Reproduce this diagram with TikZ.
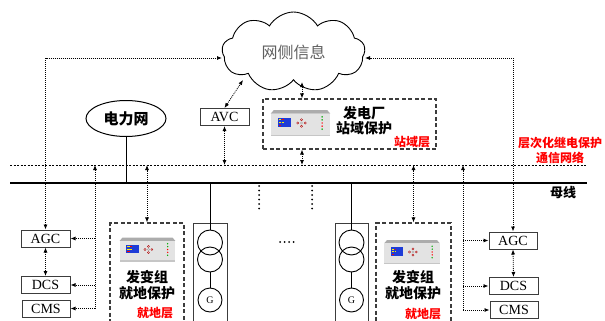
\documentclass[tikz,border=0pt]{standalone}
\usepackage{fontspec}
\setmainfont{Liberation Serif}
\newfontfamily\cjk{Noto Sans CJK SC}
\usetikzlibrary{arrows.meta,shapes.geometric,shapes.symbols}

\definecolor{boxgray}{RGB}{60,60,60}
\definecolor{lblred}{RGB}{255,0,0}
\definecolor{cloudtxt}{RGB}{95,95,95}
\definecolor{lcdblue}{RGB}{30,60,215}

\tikzset{
  unitbox/.style={draw=boxgray, line width=1pt, minimum width=49pt, minimum height=17pt,
    inner sep=0pt, font=\fontsize{14}{14}\selectfont},
  layerbox/.style={draw=boxgray, line width=1.1pt, dash pattern=on 4pt off 2.5pt,
    inner sep=0pt},
  link/.style={line width=0.8pt, dash pattern=on 1pt off 1pt},
  twoway/.style={link, {Latex[length=5pt,width=4pt]}-{Latex[length=5pt,width=4pt]}},
  oneway/.style={link, -{Latex[length=5pt,width=4pt]}},
  busline/.style={line width=1.5pt},
  netline/.style={line width=0.9pt, dash pattern=on 2pt off 1.5pt},
  cnbold/.style={font=\cjk\bfseries\fontsize{14}{16}\selectfont, align=center},
  cnred/.style={font=\cjk\bfseries\fontsize{12}{12}\selectfont, text=lblred},
  winding/.style={draw, line width=0.9pt, circle, minimum size=25pt, inner sep=0pt},
  genframe/.style={draw=boxgray, line width=0.9pt, inner sep=0pt},
  bigdots/.style={line width=2pt, line cap=round, dash pattern=on 0pt off 4.5pt},
  % rack-mounted protection relay
  relayunit/.pic={
    \fill[gray!65] (-26,-12.5) -- (26,-12.5) -- (29,-9) -- (-29,-9) -- cycle;
    \fill[gray!22] (-29,-9) rectangle (29,12.5);
    \fill[gray!45] (-29,11.3) rectangle (29,12.5);
    \fill[lcdblue] (-22,-5) rectangle (-9,4);
    \fill[yellow] (-21,-3.6) rectangle (-18.6,-2.6);
    \fill[yellow] (-21,-1.0) rectangle (-18.6,0.0);
    \fill[red]    (-21,1.6) rectangle (-18.6,2.6);
    \fill[red]    (-17.8,-3.6) rectangle (-16.4,-2.6);
    \fill[yellow] (-17.8,-1.0) rectangle (-16.4,0.0);
    \draw[red!70!black, line width=0.35pt] (1,-3.2) circle (1.1) (1,3.2) circle (1.1)
      (-2.6,0) circle (1.1) (4.6,0) circle (1.1);
    \draw[gray!70, line width=0.35pt] (1,0) circle (1.1);
    \fill[green!65!black] (21,-6) circle (0.8) (21,-3) circle (0.8) (21,6) circle (0.8);
    \fill[red] (21,0) circle (0.8) (21,3) circle (0.8);
  },
}

\begin{document}
\begin{tikzpicture}[x=1pt,y=-1pt]
\useasboundingbox (0,0) rectangle (605,321);
\clip (0,0) rectangle (605,321);

% network-side information cloud
\node[cloud, draw, line width=0.9pt, cloud puffs=9, cloud puff arc=120, aspect=1.7,
  minimum width=143pt, minimum height=80pt, inner sep=0pt, text=cloudtxt,
  font=\cjk\fontsize{16}{16}\selectfont] (cloud) at (293.5,52) {网侧信息};
\coordinate (cw) at (222,58);
\coordinate (ce) at (365,58);
\coordinate (cavc) at (243,80);
\coordinate (cst) at (302,82);

% bus bar and communication network
\coordinate (netL) at (10,165);
\coordinate (netR) at (587,165);
\coordinate (busL) at (10,183);
\coordinate (busR) at (587,183);
\draw[netline] (netL) -- (netR);
\draw[busline] (busL) -- (busR);

\node[cnred, font=\cjk\bfseries\fontsize{12}{15}\selectfont, align=center] (netlbl)
  at (560,150.5) {层次化继电保护\\通信网络};
\node[font=\cjk\bfseries\fontsize{13}{13}\selectfont] (buslbl) at (563,193) {母线};

% external grid
\node[ellipse, draw, line width=1pt, minimum width=80pt, minimum height=36pt, inner sep=0pt,
  font=\cjk\bfseries\fontsize{15}{15}\selectfont] (grid) at (126,118.5) {电力网};
\draw[line width=1pt] (grid.south) -- (grid.south |- busL);

% AVC
\node[unitbox] (avc) at (224.5,117) {AVC};
\draw[twoway] (avc.north) -- (cavc);
\draw[twoway] (avc.south) -- (avc.south |- netL);

% station-level protection
\node[layerbox, minimum width=173pt, minimum height=50pt] (stbox) at (349.5,124) {};
\pic[scale=1.03] at (300.5,123) {relayunit};
\node[cnbold, font=\cjk\bfseries\fontsize{14}{15}\selectfont] (stname) at (364,120.5) {发电厂\\站域保护};
\node[cnred] (stlayer) at (412,142) {站域层};
\draw[twoway] (cst) -- (stbox.north -| cst);
\draw[twoway] (stbox.south -| cst) -- (netL -| cst);

% local-level protection
\node[layerbox, minimum width=74pt, minimum height=120pt] (locL) at (147,283) {};
\node[layerbox, minimum width=75pt, minimum height=120pt] (locR) at (413.5,283) {};
\pic[scale=0.96] at (147.5,249.5) {relayunit};
\pic[scale=0.96] at (412,252) {relayunit};
\node[cnbold] (locLname) at (147,285) {发变组\\就地保护};
\node[cnbold] (locRname) at (413,285.5) {发变组\\就地保护};
\node[cnred] (locLlayer) at (155,313) {就地层};
\node[cnred] (locRlayer) at (423,314) {就地层};
\draw[twoway] (locL.north) -- (locL.north |- netL);
\draw[twoway] (locR.north) -- (locR.north |- netL);

% generator-transformer units
\node[genframe, minimum width=34pt, minimum height=117pt] (genL) at (210,281.5) {};
\node[genframe, minimum width=33pt, minimum height=117pt] (genR) at (351.5,282) {};
\node[winding] (twL1) at (210,242.5) {};
\node[winding] (twL2) at (210,259.5) {};
\node[winding, minimum size=24pt, font=\fontsize{10}{10}\selectfont] (gL) at (210,300) {G};
\node[winding] (twR1) at (351.5,242.5) {};
\node[winding] (twR2) at (351.5,259.5) {};
\node[winding, minimum size=24pt, font=\fontsize{10}{10}\selectfont] (gR) at (351.5,300) {G};
\draw[line width=0.9pt] (twL1.north |- busL) -- (twL1.north);
\draw[line width=0.9pt] (twL2.south) -- (gL.north);
\draw[line width=0.9pt] (twR1.north |- busL) -- (twR1.north);
\draw[line width=0.9pt] (twR2.south) -- (gR.north);

% further units omitted
\draw[bigdots] (259,186) -- (259,213);
\draw[bigdots] (312,186) -- (312,213);
\draw[bigdots] (280,242) -- (294,242);

% plant control systems, left
\node[unitbox] (agcL) at (45.5,238.5) {AGC};
\node[unitbox] (dcsL) at (45.5,285) {DCS};
\node[unitbox, minimum width=48pt] (cmsL) at (46,308.5) {CMS};
\draw[twoway] (agcL.north) |- (cw);
\draw[twoway] (agcL.south) -- (dcsL.north);
\coordinate (tapL) at (95,165);
\draw[oneway] (tapL |- cmsL.east) -- (tapL);
\draw[oneway] (tapL |- agcL.east) -- (agcL.east);
\draw[oneway] (tapL |- dcsL.east) -- (dcsL.east);
\draw[oneway] (tapL |- cmsL.east) -- (cmsL.east);

% plant control systems, right
\node[unitbox, minimum width=48pt] (agcR) at (513,240.5) {AGC};
\node[unitbox] (dcsR) at (513.5,286) {DCS};
\node[unitbox, minimum width=48pt] (cmsR) at (514,310) {CMS};
\draw[twoway] (agcR.north) |- (ce);
\draw[twoway] (agcR.south) -- (dcsR.north);
\coordinate (tapR) at (463,165);
\draw[oneway] (tapR |- cmsR.west) -- (tapR);
\draw[oneway] (tapR |- agcR.west) -- (agcR.west);
\draw[oneway] (tapR |- dcsR.west) -- (dcsR.west);
\draw[oneway] (tapR |- cmsR.west) -- (cmsR.west);
\end{tikzpicture}
\end{document}
